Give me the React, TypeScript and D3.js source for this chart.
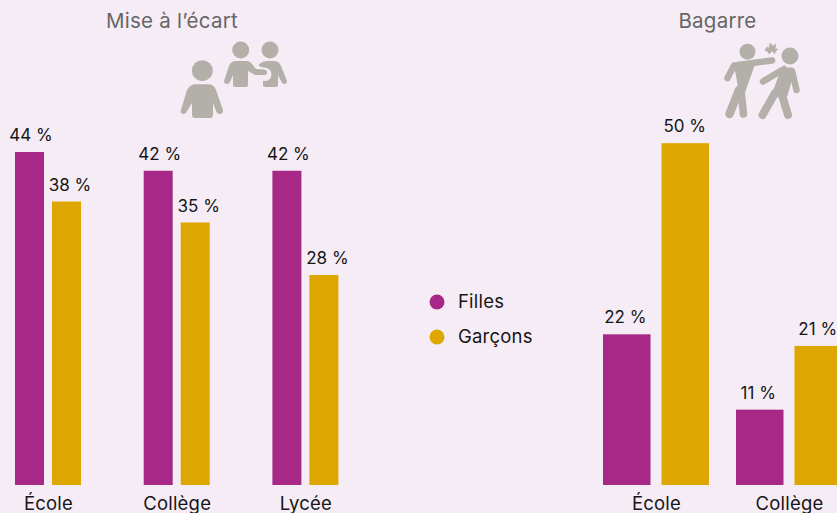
import React from "react";
import * as d3 from "d3";

const W = 837, H = 513;
const seriesNames = ["Filles", "Garçons"];
const seriesColors = ["#a72887", "#dda600"];
const leftCategories = ["École", "Collège", "Lycée"];
const leftFilles = [44.4, 41.9, 41.9];
const leftGarcons = [37.8, 35, 28];
const rightCategories = ["École", "Collège"];
const rightFilles = [22, 11];
const rightGarcons = [49.9, 20.3];
const leftLabels = [["44 %", "38 %"], ["42 %", "35 %"], ["42 %", "28 %"]];
const rightLabels = [["22 %", "50 %"], ["11 %", "21 %"]];

const FONT = "Inter, 'Noto Sans', sans-serif";
const BASE = 485;
const BG = "#f5ecf5";

function Panel({ cats, a, b, labels, x0, step, groupW, gapFrac, k, labelDy, labelDx }: any) {
  const y = d3.scaleLinear().domain([0, 100]).range([BASE, BASE - 100 * k]);
  const x = d3.scaleBand<string>().domain(cats).range([x0, x0 + step * cats.length]).paddingInner(0).paddingOuter(0).align(0);
  const inner = d3.scaleBand<string>().domain(seriesNames).range([0, groupW]).paddingInner(gapFrac).paddingOuter(0);
  return (
    <g>
      {cats.map((c: string, i: number) => {
        const vals = [a[i], b[i]];
        return (
          <g key={c}>
            {seriesNames.map((s, j) => {
              const bx = (x(c) as number) + (inner(s) as number);
              return (
                <g key={s}>
                  <rect x={bx} y={y(vals[j])} width={inner.bandwidth()} height={BASE - y(vals[j])} fill={seriesColors[j]} />
                  <text x={bx + inner.bandwidth() / 2 + labelDx[j]} y={y(vals[j]) - labelDy} textAnchor="middle" fontSize={17} fill="#161616">{labels[i][j]}</text>
                </g>
              );
            })}
            <text x={(x(c) as number) + groupW / 2 + 0.5} y={510} textAnchor="middle" fontSize={18.5} letterSpacing={0.2} fill="#161616">{c}</text>
          </g>
        );
      })}
    </g>
  );
}

function IconIsolated() {
  const g = "#b3afa9";
  return (
    <g fill={g} stroke="none" strokeLinecap="round" strokeLinejoin="round">
      <circle cx={202.3} cy={70.7} r={10.5} />
      <path d="M196 84.3 H208 Q214 84.3 216 90 L223 110 Q223 114 220 114 Q217 114 216 111 L213 103 V115 Q213 118 210 118 H195 Q192 118 192 115 V103 L187 111 Q186 114 183 114 Q180 113 181 110 L187 90 Q190 84.3 196 84.3Z" />
      <circle cx={240.7} cy={50} r={8.5} />
      <circle cx={270} cy={50} r={8.5} />
      <path d="M268 61 H274 Q279 61 281 66 L287 81 Q287 84 284 84 Q282 84 281 81 L278 75 V85 Q278 87 276 87 H265 Q263 87 263 85 V73 L258 66 Q261 61 268 61Z" />
      <path d="M254 66 Q258 71 264 71 Q268 72 268 74.5 Q268 78 264 77.5" fill="none" stroke={BG} strokeWidth={7} />
      <path d="M236 61 H247 Q250 61 252 64 L256 69 L264 69.5 Q267 70 267 72.5 Q267 75 264 75 L255 75 L248 71 V85 Q248 87 246 87 H235 Q233 87 233 85 V75 L230 82 Q229 84 227 84 Q224 84 224 81 L229 66 Q231 61 236 61Z" />
    </g>
  );
}

function IconFight() {
  const g = "#b3afa9";
  return (
    <g fill="none" stroke={g} strokeLinecap="round" strokeLinejoin="round">
      <circle cx={747.5} cy={51.7} r={8} fill={g} stroke="none" />
      <circle cx={790} cy={56} r={8.5} fill={g} stroke="none" />
      <path d="M772 60.5 L734 65.5 L727.5 78" strokeWidth={6.5} />
      <path d="M737 65 L752 64 L742 92 Z" fill={g} strokeWidth={6} />
      <path d="M739 90 L729.5 114" strokeWidth={8.5} />
      <path d="M741 91 L743.5 114" strokeWidth={7.5} />
      <path d="M791 71 L784 71 L776 93 L784 95 Z" fill={g} strokeWidth={7} />
      <path d="M784 69 L763 81.5" strokeWidth={6.5} />
      <path d="M792 71 L796.5 90" strokeWidth={6.5} />
      <path d="M775 93 L762.5 115" strokeWidth={8} />
      <path d="M782 95 L788 115" strokeWidth={8} />
      <path d="M765 50 L767 47 L769 48 L770 43 L773 46 L776 44 L775 49 L778 49 L775 52 L775 54 L772 51 L769 54 L768 52 Z" fill={g} strokeWidth={0.6} />
    </g>
  );
}

export default function App() {
  return (
    <svg width={W} height={H} viewBox={`0 0 ${W} ${H}`} style={{ position: "fixed", left: 0, top: 0, display: "block", background: BG, fontFamily: FONT }}>
      <rect width={W} height={H} fill={BG} />
      <text x={172} y={28} textAnchor="middle" fontSize={20.5} letterSpacing={0.25} fill="#666666">Mise à l’écart</text>
      <text x={717.5} y={28} textAnchor="middle" fontSize={20.5} letterSpacing={0.25} fill="#666666">Bagarre</text>
      <IconIsolated />
      <IconFight />
      <Panel cats={leftCategories} a={leftFilles} b={leftGarcons} labels={leftLabels} x0={15} step={128.7} groupW={66} gapFrac={8 / 37} k={7.5} labelDy={11} labelDx={[1.5, 3.5]} />
      <Panel cats={rightCategories} a={rightFilles} b={rightGarcons} labels={rightLabels} x0={603} step={133} groupW={106} gapFrac={11 / 58.5} k={6.85} labelDy={11} labelDx={[-1.5, -0.5]} />
      {seriesNames.map((s, i) => (
        <g key={s}>
          <circle cx={437} cy={302 + i * 35} r={7.5} fill={seriesColors[i]} />
          <text x={458} y={307.5 + i * 35} fontSize={18.5} letterSpacing={0.2} fill="#161616">{s}</text>
        </g>
      ))}
    </svg>
  );
}
